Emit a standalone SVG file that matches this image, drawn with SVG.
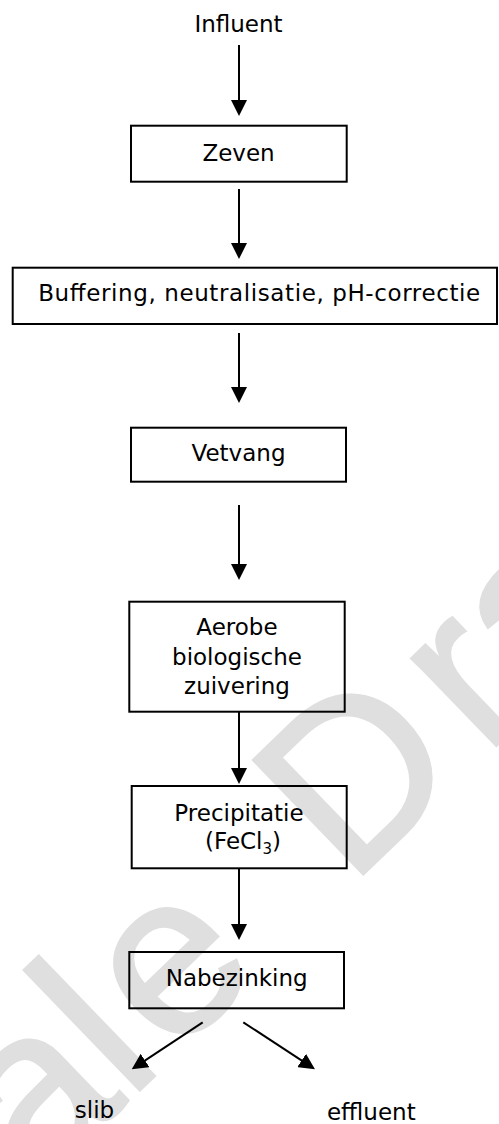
<svg xmlns="http://www.w3.org/2000/svg" width="499" height="1124" viewBox="0 0 499 1124">
<style>
.box{fill:none;stroke:#000;stroke-width:2}
.lbl{font-family:"DejaVu Sans",Verdana,sans-serif;font-size:23px;fill:#000;text-anchor:middle}
.con{stroke:#000;stroke-width:2;fill:none;marker-end:url(#ah)}
.wm{font-family:"Liberation Sans",Arial,sans-serif;font-size:230px;fill:#dfdfdf;stroke:#dfdfdf;stroke-width:3}
</style>
<defs>
<marker id="ah" markerUnits="userSpaceOnUse" markerWidth="16" markerHeight="16" refX="8" refY="8" orient="auto">
<path d="M0,0 L16,8 L0,16 z" fill="#000"/>
</marker>
</defs>
<rect width="499" height="1124" fill="#fff"/>
<g id="watermark">
<text class="wm" transform="translate(147,1083) rotate(-44)" x="-473 -422 -371 -153.5 -25.5 35 163 282 470 546.6 674.5 738.4" y="0">Finale Draft</text>
</g>
<g id="connectors">
<line class="con" x1="239" y1="45" x2="239" y2="108"/>
<line class="con" x1="239" y1="189" x2="239" y2="251"/>
<line class="con" x1="239" y1="333" x2="239" y2="395"/>
<line class="con" x1="239" y1="505" x2="239" y2="572"/>
<line class="con" x1="239" y1="712" x2="239" y2="776"/>
<line class="con" x1="239" y1="869" x2="239" y2="932"/>
<line class="con" x1="202.7" y1="1022.3" x2="138.4" y2="1064.9"/>
<line class="con" x1="243.3" y1="1022.3" x2="308.3" y2="1064.9"/>
</g>
<g id="influent"><text class="lbl" x="238.5" y="31.5">Influent</text></g>
<g id="zeven">
<rect class="box" x="131" y="125.7" width="215.7" height="56"/>
<text class="lbl" x="238.5" y="160.5">Zeven</text>
</g>
<g id="buffering">
<rect class="box" x="12.7" y="267.7" width="484.3" height="56.3"/>
<text class="lbl" x="259.2" y="300.7" textLength="442" lengthAdjust="spacing">Buffering, neutralisatie, pH-correctie</text>
</g>
<g id="vetvang">
<rect class="box" x="131" y="427.7" width="215" height="54"/>
<text class="lbl" x="238.5" y="461">Vetvang</text>
</g>
<g id="aerobe">
<rect class="box" x="129.3" y="601.7" width="215.4" height="110"/>
<text class="lbl" x="237" y="635">Aerobe</text>
<text class="lbl" x="237" y="664.5">biologische</text>
<text class="lbl" x="237" y="693.5">zuivering</text>
</g>
<g id="precipitatie">
<rect class="box" x="131.7" y="786" width="215" height="82.3"/>
<text class="lbl" x="239" y="821">Precipitatie</text>
<text class="lbl" x="243" y="849.3">(FeCl<tspan font-size="15" dy="5">3</tspan><tspan dy="-5">)</tspan></text>
</g>
<g id="nabezinking">
<rect class="box" x="129.3" y="952" width="214.7" height="56.3"/>
<text class="lbl" x="236.7" y="986">Nabezinking</text>
</g>
<g id="slib"><text class="lbl" x="94.5" y="1118.3">slib</text></g>
<g id="effluent"><text class="lbl" x="371.3" y="1120">effluent</text></g>
</svg>
